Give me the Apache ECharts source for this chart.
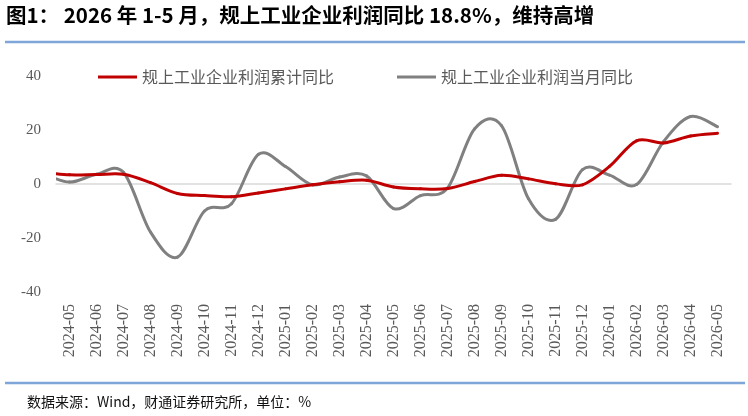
<!DOCTYPE html>
<html>
<head>
<meta charset="utf-8">
<script src="https://cdn.jsdelivr.net/npm/echarts@6/dist/echarts.min.js"></script>
<style>
html,body{margin:0;padding:0;background:#fff;}
#c{width:748px;height:416px;}
</style>
</head>
<body>
<div id="c"></div>
<script>
// First month (2024-04) lies just left of the plot and is clipped, as in the original.
const months = ['2024-04','2024-05','2024-06','2024-07','2024-08','2024-09','2024-10','2024-11','2024-12',
  '2025-01','2025-02','2025-03','2025-04','2025-05','2025-06','2025-07','2025-08','2025-09','2025-10',
  '2025-11','2025-12','2026-01','2026-02','2026-03','2026-04','2026-05'];
const cumYoY = [4.3, 3.4, 3.5, 3.6, 0.5, -3.5, -4.3, -4.7, -3.3,
  -1.8, -0.3, 0.8, 1.4, -1.1, -1.8, -1.7, 0.9, 3.2, 1.9,
  0.1, -0.3, 6.5, 16.0, 15.2, 17.8, 18.8];
const monYoY = [4.0, 0.7, 3.6, 4.3, -17.8, -27.1, -10.0, -7.3, 11.0,
  6.5, -0.3, 2.6, 3.0, -9.1, -4.3, -1.5, 20.4, 21.6, -5.5,
  -13.1, 5.3, 3.3, -0.2, 15.7, 25.0, 21.2];
const yTicks = [-40, -20, 0, 20, 40];
const seriesNames = ['规上工业企业利润累计同比', '规上工业企业利润当月同比'];
const seriesColors = ['#C00000', '#808080'];
const titleText = '图1： 2026 年 1-5 月，规上工业企业利润同比 18.8%，维持高增';
const sourceText = '数据来源：Wind，财通证券研究所，单位：%';

const shownMonths = months.slice(1);
const toPairs = arr => arr.map((v, i) => [i, v]);

// Smooth line (Catmull-Rom style, like office chart smoothing), one Bezier segment per point.
function smoothSeries(arr, color) {
  return function (params, api) {
    const i = params.dataIndex;
    const n = arr.length;
    if (i >= n - 1) return null;
    const i0 = Math.max(i - 1, 0), i3 = Math.min(i + 2, n - 1);
    const p0 = api.coord([i0, arr[i0]]);
    const p1 = api.coord([i, arr[i]]);
    const p2 = api.coord([i + 1, arr[i + 1]]);
    const p3 = api.coord([i3, arr[i3]]);
    const cs = params.coordSys;
    return {
      type: 'bezierCurve',
      shape: {
        x1: p1[0], y1: p1[1], x2: p2[0], y2: p2[1],
        cpx1: p1[0] + (p2[0] - p0[0]) / 6, cpy1: p1[1] + (p2[1] - p0[1]) / 6,
        cpx2: p2[0] - (p3[0] - p1[0]) / 6, cpy2: p2[1] - (p3[1] - p1[1]) / 6
      },
      style: {stroke: color, lineWidth: 3, fill: null, lineCap: 'round'},
      clipPath: {type: 'rect', shape: {x: cs.x, y: cs.y - 20, width: cs.width, height: cs.height + 40}}
    };
  };
}

const chart = echarts.init(document.getElementById('c'), null, {renderer: 'canvas'});
const legendText = {fontFamily: '"Noto Sans CJK SC"', fontSize: 16, color: '#595959'};
chart.setOption({
  backgroundColor: '#ffffff',
  animation: false,
  title: {
    text: titleText, left: 6, top: 5, padding: 0,
    textStyle: {fontFamily: '"Noto Sans CJK SC"', fontSize: 20.5, fontWeight: 'bold', color: '#000000'}
  },
  legend: [
    {data: [{name: seriesNames[0], itemStyle: {color: seriesColors[0]}}], left: 98, top: 69, padding: 0, icon: 'rect', itemWidth: 39, itemHeight: 3, itemGap: 6, textStyle: legendText},
    {data: [{name: seriesNames[1], itemStyle: {color: seriesColors[1]}}], left: 397, top: 69, padding: 0, icon: 'rect', itemWidth: 39, itemHeight: 3, itemGap: 6, textStyle: legendText}
  ],
  grid: {left: 56, right: 17, top: 76, bottom: 124, containLabel: false},
  xAxis: [
    {
      type: 'category', data: shownMonths, boundaryGap: true, position: 'bottom',
      axisLine: {show: false, onZero: false}, axisTick: {show: false},
      axisLabel: {rotate: 90, interval: 0, margin: 12, fontFamily: '"Liberation Serif"', fontSize: 16, color: '#595959'},
      splitLine: {show: false}
    },
    {
      type: 'value', min: 0.5, max: months.length - 0.5, position: 'bottom',
      axisLine: {show: true, onZero: true, lineStyle: {color: '#D9D9D9', width: 1.5}},
      axisTick: {show: false}, axisLabel: {show: false}, splitLine: {show: false}
    }
  ],
  yAxis: {
    type: 'value', min: yTicks[0], max: yTicks[yTicks.length - 1], interval: 20,
    axisLine: {show: false}, axisTick: {show: false}, splitLine: {show: false},
    axisLabel: {margin: 15, fontFamily: '"Liberation Serif"', fontSize: 15, color: '#595959'}
  },
  series: [
    {
      name: seriesNames[0], type: 'custom', xAxisIndex: 1, data: toPairs(cumYoY),
      encode: {x: 0, y: 1}, renderItem: smoothSeries(cumYoY, seriesColors[0]), z: 3,
      itemStyle: {color: seriesColors[0]}
    },
    {
      name: seriesNames[1], type: 'custom', xAxisIndex: 1, data: toPairs(monYoY),
      encode: {x: 0, y: 1}, renderItem: smoothSeries(monYoY, seriesColors[1]), z: 2,
      itemStyle: {color: seriesColors[1]}
    }
  ],
  graphic: [
    {type: 'line', shape: {x1: 5, y1: 42, x2: 745, y2: 42}, style: {stroke: '#7EA6D8', lineWidth: 2.5}},
    {type: 'line', shape: {x1: 5, y1: 383, x2: 745, y2: 383}, style: {stroke: '#7EA6D8', lineWidth: 2.5}},
    {type: 'text', left: 27, top: 395, style: {text: sourceText, font: '14px "Noto Sans CJK SC"', fill: '#111111'}}
  ]
});
</script>
</body>
</html>
